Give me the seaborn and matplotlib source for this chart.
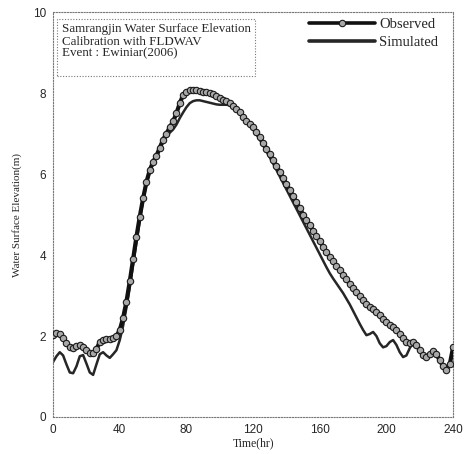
import numpy as np
import pandas as pd
import matplotlib
matplotlib.use("Agg")
import matplotlib.pyplot as plt
import seaborn as sns

time_hr = list(range(0, 241, 2))

observed = [
    2.02, 2.07, 2.05, 1.95, 1.82, 1.72, 1.70, 1.75, 1.78, 1.74,
    1.65, 1.59, 1.58, 1.68, 1.85, 1.90, 1.92, 1.93, 1.95, 2.00,
    2.15, 2.45, 2.85, 3.35, 3.90, 4.45, 4.95, 5.40, 5.80, 6.10,
    6.30, 6.45, 6.65, 6.85, 7.00, 7.15, 7.30, 7.50, 7.75, 7.95,
    8.03, 8.07, 8.08, 8.07, 8.05, 8.03, 8.02, 8.00, 7.97, 7.92,
    7.88, 7.84, 7.80, 7.75, 7.68, 7.60, 7.52, 7.42, 7.32, 7.24,
    7.16, 7.04, 6.91, 6.77, 6.63, 6.49, 6.35, 6.20, 6.05, 5.90,
    5.75, 5.60, 5.45, 5.30, 5.15, 5.00, 4.86, 4.73, 4.60, 4.47,
    4.34, 4.21, 4.08, 3.95, 3.84, 3.73, 3.62, 3.51, 3.40, 3.29,
    3.18, 3.08, 2.98, 2.88, 2.80, 2.72, 2.66, 2.60, 2.52, 2.42,
    2.34, 2.28, 2.22, 2.15, 2.05, 1.95, 1.86, 1.82, 1.84, 1.78,
    1.65, 1.52, 1.48, 1.55, 1.62, 1.55, 1.40, 1.25, 1.17, 1.30,
    1.72,
]

simulated = [
    1.36, 1.50, 1.60, 1.52, 1.30, 1.10, 1.08, 1.25, 1.50, 1.53,
    1.32, 1.10, 1.04, 1.30, 1.55, 1.60, 1.52, 1.46, 1.55, 1.65,
    1.90, 2.25, 2.70, 3.20, 3.75, 4.30, 4.85, 5.35, 5.75, 6.05,
    6.25, 6.42, 6.60, 6.78, 6.92, 7.02, 7.10, 7.22, 7.38, 7.52,
    7.65, 7.75, 7.80, 7.82, 7.82, 7.80, 7.78, 7.76, 7.74, 7.72,
    7.71, 7.71, 7.71, 7.70, 7.65, 7.58, 7.50, 7.40, 7.30, 7.20,
    7.10, 6.98, 6.85, 6.71, 6.56, 6.41, 6.26, 6.10, 5.94, 5.78,
    5.62, 5.46, 5.30, 5.14, 4.98, 4.82, 4.66, 4.50, 4.34, 4.18,
    4.02, 3.86, 3.70, 3.55, 3.42, 3.30, 3.18, 3.06, 2.92, 2.78,
    2.62, 2.46, 2.30, 2.15, 2.02, 2.05, 2.10, 2.00, 1.82, 1.72,
    1.75, 1.85, 1.90, 1.78, 1.60, 1.48, 1.52, 1.70, 1.84, 1.78,
    1.65, 1.52, 1.48, 1.55, 1.62, 1.55, 1.40, 1.25, 1.17, 1.30,
    1.74,
]

x_ticks = [0, 40, 80, 120, 160, 200, 240]
y_ticks = [0, 2, 4, 6, 8, 10]

df_obs = pd.DataFrame({"Time": time_hr, "Elev": observed})
df_sim = pd.DataFrame({"Time": time_hr, "Elev": simulated})

sns.set_style("white")
plt.rcParams["font.family"] = ["Liberation Serif", "DejaVu Serif"]

fig = plt.figure(figsize=(4.70, 4.54), dpi=100)
ax = fig.add_axes([0.113, 0.0815, 0.851, 0.892])

sns.lineplot(data=df_sim, x="Time", y="Elev", ax=ax, color="#262626",
             linewidth=1.8, label="Simulated", zorder=2)
sns.lineplot(data=df_obs, x="Time", y="Elev", ax=ax, color="#111111",
             linewidth=3.0, marker="o", markersize=4.6,
             markerfacecolor="#a8a8a8", markeredgecolor="#1a1a1a",
             markeredgewidth=0.8, label="Observed", zorder=3)

ax.set_xlim(0, 240)
ax.set_ylim(0, 10)
ax.set_xticks(x_ticks)
ax.set_yticks(y_ticks)
ax.set_xticklabels([str(v) for v in x_ticks], family="Liberation Sans", fontsize=8.5)
ax.set_yticklabels([str(v) for v in y_ticks], family="Liberation Sans", fontsize=8.5)
ax.tick_params(direction="in", length=2, width=0.6, color="#888888", pad=5)

for s in ax.spines.values():
    s.set_linestyle((0, (1, 1.5)))
    s.set_color("#777777")
    s.set_linewidth(0.8)

ax.set_xlabel("Time(hr)", fontsize=8.5, labelpad=1)
ax.set_ylabel("Water Surface Elevation(m)", fontsize=8, labelpad=8)

handles, labels = ax.get_legend_handles_labels()
order = [labels.index("Observed"), labels.index("Simulated")]
leg = ax.legend([handles[i] for i in order], [labels[i] for i in order],
                loc="upper right", bbox_to_anchor=(0.995, 1.018), frameon=False,
                fontsize=10.5, handlelength=4.5, handletextpad=0.3,
                labelspacing=0.3, numpoints=1)
for line in leg.get_lines():
    line.set_linewidth(2.6)

ax.text(0.022, 0.972,
        "Samrangjin Water Surface Elevation\nCalibration with FLDWAV\nEvent : Ewiniar(2006)\n",
        transform=ax.transAxes, ha="left", va="top", fontsize=9.4,
        linespacing=1.02,
        bbox=dict(boxstyle="square,pad=0.35", facecolor="white",
                  edgecolor="#777777", linestyle=(0, (1, 1.5)), linewidth=0.8))

fig.savefig("out.png", dpi=100)
